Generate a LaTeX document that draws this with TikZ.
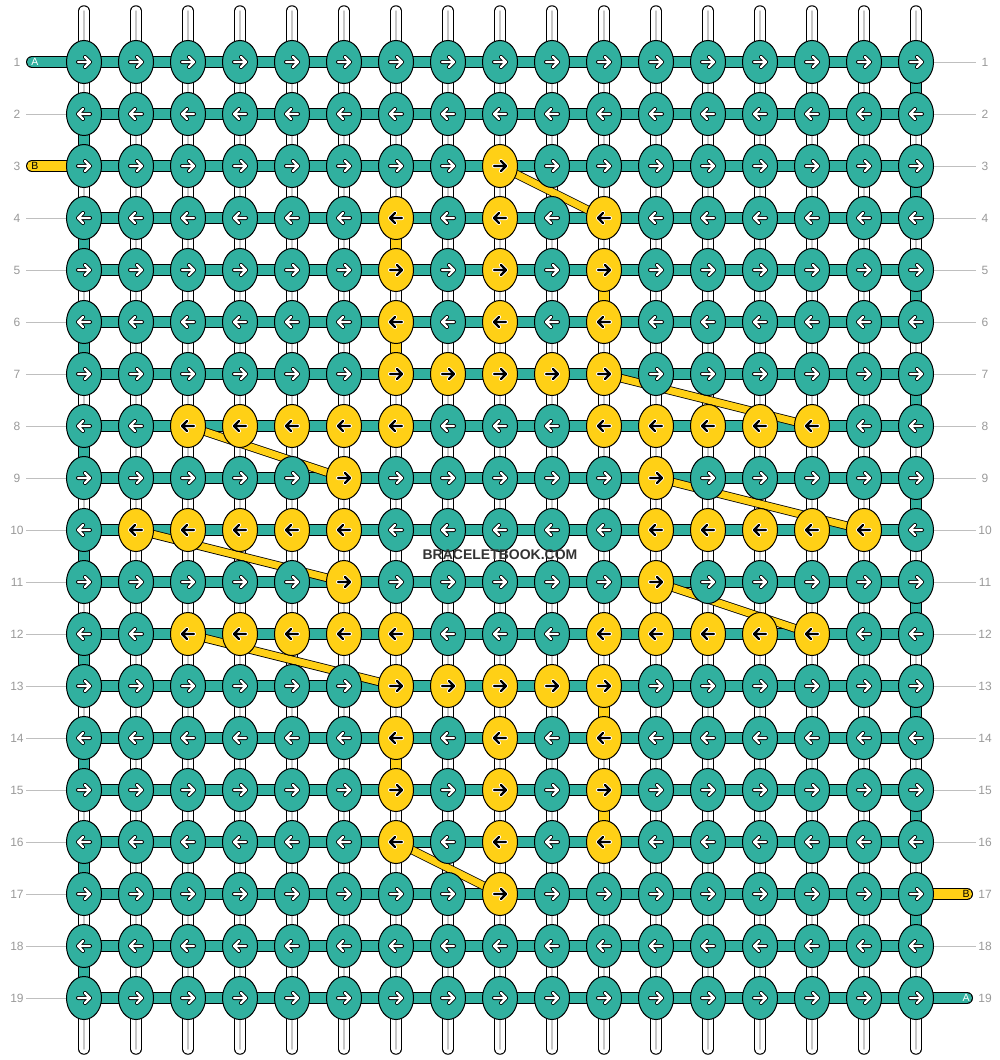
\documentclass[tikz,border=0pt]{standalone}
\usepackage{fontspec}
\setmainfont{Liberation Sans}
\usetikzlibrary{shapes.geometric}
\definecolor{colA}{RGB}{49,176,159}
\definecolor{colB}{RGB}{255,208,22}
\definecolor{rowgray}{RGB}{153,153,153}
\pgfdeclarelayer{strands}
\pgfsetlayers{strands,main}

\begin{document}
\begin{tikzpicture}[x=1pt, y=-1pt]
		    \tikzstyle{knot}=[ellipse, draw, line width=1, inner sep=0pt, minimum width=35, minimum height=43]
		    \tikzstyle{thread}=[draw=black, line width=1, double=white, double distance=9.5, line cap=round]
		    \tikzstyle{bar}=[draw=black, line width=1, double=colA, double distance=10]
		    \tikzstyle{goldbar}=[bar, double=colB]
		    \tikzstyle{hop}=[draw=black, line width=0.8, double=colB, double distance=7]
		    \tikzstyle{rowlab}=[text=rowgray, font=\fontsize{12}{12}\selectfont, minimum width=18, inner sep=0pt]
		    \tikzstyle{endtag}=[font=\fontsize{10.5}{10.5}\selectfont, inner sep=0pt]
		    \tikzstyle{arrline}=[line cap=round, line join=round]
		    \useasboundingbox (0,0) rectangle (1000,1060);
		
		    \foreach \r/\cl in {3/{9}, 4/{7,9,11}, 5/{7,9,11}, 6/{7,9,11}, 7/{7,8,9,10,11},
		        8/{3,4,5,6,7,11,12,13,14,15}, 9/{6,12}, 10/{2,3,4,5,6,12,13,14,15,16},
		        11/{6,12}, 12/{3,4,5,6,7,11,12,13,14,15}, 13/{7,8,9,10,11},
		        14/{7,9,11}, 15/{7,9,11}, 16/{7,9,11}, 17/{9}}
		      \foreach \c in \cl {\expandafter\xdef\csname gold\r-\c\endcsname{}}
		
		    \foreach \r in {1,...,19} {
		      \pgfmathtruncatemacro\knotdir{1-2*mod(\r+1,2)}
		      \foreach \c in {1,...,17} {
		        \ifcsname gold\r-\c\endcsname
		          \node[knot, fill=colB] (k-\r-\c) at ({32+52*\c},{10+52*\r}) {};
		          \def\arrout{white}\def\arrin{black}
		        \else
		          \node[knot, fill=colA] (k-\r-\c) at ({32+52*\c},{10+52*\r}) {};
		          \def\arrout{black}\def\arrin{white}
		        \fi
		        \begin{scope}[shift={(k-\r-\c.center)}, xscale=\knotdir]
		          \draw[arrline, \arrout, line width=4] (-6,0) -- (6,0) (1,-5) -- (6,0) -- (1,5);
		          \draw[arrline, \arrin, line width=2.2] (-6,0) -- (6,0) (1,-5) -- (6,0) -- (1,5);
		        \end{scope}
		      }
		      \node[rowlab] (l-\r) at (17,{10+52*\r}) {\r};
		      \node[rowlab] (r-\r) at (985,{10+52*\r}) {\r};
		    }
		    \foreach \c in {1,...,17} {
		      \coordinate (top-\c) at ([yshift=51]k-1-\c);
		      \coordinate (bot-\c) at ([yshift=-51]k-19-\c);
		    }
		    \coordinate (a-in) at ([xshift=-52]k-1-1);
		    \coordinate (b-in) at ([xshift=-52]k-3-1);
		    \coordinate (b-out) at ([xshift=51]k-17-17);
		    \coordinate (a-out) at ([xshift=51]k-19-17);
		    \node[endtag, text=white] (ta-in) at ([xshift=3]a-in) {A};
		    \node[endtag] (tb-in) at ([xshift=3]b-in) {B};
		    \node[endtag] (tb-out) at ([xshift=-1]b-out) {B};
		    \node[endtag, text=white] (ta-out) at ([xshift=-1]a-out) {A};
		    \node[font=\bfseries\fontsize{14}{14}\selectfont, text=black!80] (mark) at (500,555) {BRACELETBOOK.COM};
		
		    \begin{pgfonlayer}{strands}
		      \foreach \c in {1,...,17} {
		        \draw[thread] (top-\c) -- (bot-\c);
		        \draw[black!22, line width=1.5, line cap=round] (top-\c) -- (bot-\c);
		      }
		      \foreach \r in {2,4,5,...,19} \draw[black!25] (l-\r.east) -- (k-\r-1.center);
		      \foreach \r in {1,...,16,18} \draw[black!25] (k-\r-17.center) -- (r-\r.west);
		      \foreach \r in {1,...,19} \draw[bar] (k-\r-1.center) -- (k-\r-17.center);
		      \foreach \r [evaluate=\r as \n using int(\r+1)] in {2,4,...,18} \draw[bar] (k-\r-1.center) -- (k-\n-1.center);
		      \foreach \r [evaluate=\r as \n using int(\r+1)] in {1,3,...,17} \draw[bar] (k-\r-17.center) -- (k-\n-17.center);
		      \draw[bar, line cap=round] (a-in) -- (k-1-1.center);
		      \draw[bar, line cap=round] (k-19-17.center) -- (a-out);
		      \draw[goldbar, line cap=round] (b-in) -- (k-3-1.center);
		      \draw[goldbar, line cap=round] (k-17-17.center) -- (b-out);
		      \foreach \r/\c [evaluate=\r as \n using int(\r+1)] in {4/7, 6/7, 14/7, 5/11, 13/11, 15/11}
		        \draw[goldbar] (k-\r-\c.center) -- (k-\n-\c.center);
		      \foreach \a/\b in {3-9/4-11, 7-11/8-15, 8-3/9-6, 9-12/10-16, 10-2/11-6, 11-12/12-15, 12-3/13-7, 16-7/17-9}
		        \draw[hop] (k-\a.center) -- (k-\b.center);
		    \end{pgfonlayer}
		    \end{tikzpicture}
\end{document}
